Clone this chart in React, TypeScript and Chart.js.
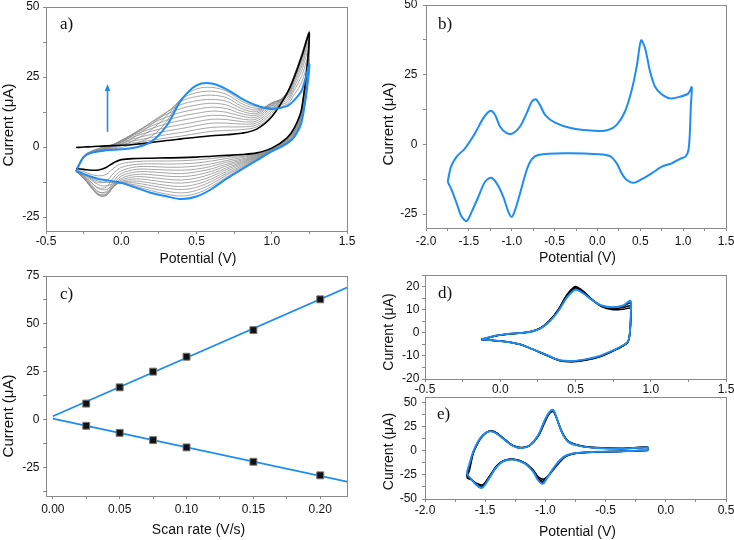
import React, { useEffect, useRef } from 'react';
import { Chart, registerables } from 'chart.js';

Chart.register(...registerables);

const BLUE = '#1e8cf0';
const AXIS = '#8a8a8a';
const GRAY = '#8a8a8a';
const SANS = "'Liberation Sans', Arial, Helvetica, sans-serif";
const SERIF = "'Liberation Serif', 'Times New Roman', serif";

// ---------- Panel a: repeated CV cycles ----------
const aUpE = [-0.3, -0.25, -0.2, -0.1, 0, 0.1, 0.2, 0.3, 0.4, 0.5, 0.6, 0.7, 0.8, 0.9, 1.0, 1.1, 1.15, 1.2, 1.25];
const aLoE = [1.2, 1.15, 1.1, 1.0, 0.9, 0.8, 0.7, 0.6, 0.5, 0.4, 0.3, 0.2, 0.1, 0.0, -0.05, -0.1, -0.15, -0.2, -0.25, -0.3];
const aBlueUp = [-8.6, -3.6, -2.1, -1.2, -0.8, -0.1, 1.9, 7.5, 16.8, 22.0, 22.7, 20.6, 17.3, 14.8, 13.6, 14.6, 16.8, 20.3, 29.5];
const aBlueLo = [9.3, 3.6, 1.2, -1.6, -4.8, -8.0, -11.3, -15.0, -17.7, -18.6, -17.6, -16.4, -14.6, -12.8, -12.3, -11.9, -11.4, -10.6, -9.6, -8.6];
const aBlackUp = [-0.2, 0.0, 0.1, 0.4, 0.6, 1.0, 1.6, 2.3, 2.9, 3.5, 4.0, 4.4, 4.9, 6.4, 10.8, 19.0, 25.0, 32.5, 40.5];
const aBlackLo = [14.0, 6.8, 3.2, -0.4, -2.1, -2.7, -3.0, -3.3, -3.6, -3.8, -3.9, -4.0, -4.1, -4.5, -5.6, -7.3, -8.2, -8.3, -8.0, -7.7];
// rows follow aUpE, columns are the intermediate cycles 1..12
const aGrayUp: number[][] = [
  [-8.2, -8.3, -8.4, -8.5, -8.6, -8.6, -8.7, -8.7, -8.7, -8.7, -8.6, -8.6],
  [-3.2, -3.3, -3.4, -3.5, -3.6, -3.7, -3.7, -3.8, -3.8, -3.7, -3.7, -3.6],
  [-1.5, -1.6, -1.7, -1.8, -1.9, -2.0, -2.0, -2.1, -2.1, -2.1, -2.1, -2.1],
  [0.3, 0.2, 0.0, -0.1, -0.3, -0.4, -0.5, -0.7, -0.8, -0.9, -1.0, -1.1],
  [1.0, 1.4, 1.8, 2.1, 2.3, 2.4, 2.3, 2.0, 1.6, 1.0, 0.4, -0.2],
  [1.6, 2.4, 3.2, 4.0, 4.6, 5.1, 5.4, 5.4, 5.0, 4.0, 2.8, 1.4],
  [2.4, 3.4, 4.5, 5.6, 6.6, 7.5, 8.3, 8.8, 8.9, 8.0, 6.2, 3.8],
  [3.2, 4.4, 5.7, 7.0, 8.3, 9.5, 10.7, 11.7, 12.4, 12.3, 11.0, 9.0],
  [3.9, 5.2, 6.6, 8.0, 9.5, 11.0, 12.4, 13.8, 15.2, 16.4, 17.2, 17.4],
  [4.8, 6.2, 7.6, 9.0, 10.5, 12.0, 13.5, 15.0, 16.5, 18.0, 19.4, 20.7],
  [5.6, 7.0, 8.5, 9.9, 11.3, 12.8, 14.2, 15.6, 17.0, 18.5, 19.9, 21.3],
  [5.9, 7.2, 8.5, 9.8, 11.1, 12.4, 13.7, 15.0, 16.3, 17.6, 18.8, 19.9],
  [6.2, 7.2, 8.2, 9.1, 10.0, 11.0, 11.9, 12.8, 13.7, 14.6, 15.5, 16.4],
  [7.2, 7.9, 8.6, 9.3, 10.0, 10.7, 11.4, 12.0, 12.6, 13.2, 13.8, 14.4],
  [11.2, 12.0, 12.8, 13.6, 14.4, 15.0, 15.5, 15.8, 15.8, 15.4, 14.8, 14.2],
  [19.3, 19.4, 19.4, 19.3, 19.1, 18.8, 18.4, 17.9, 17.3, 16.6, 15.9, 15.2],
  [25.5, 25.6, 25.6, 25.5, 25.2, 24.8, 24.2, 23.5, 22.6, 21.5, 20.3, 18.8],
  [33.0, 33.2, 33.2, 33.0, 32.6, 32.0, 31.2, 30.2, 29.0, 27.5, 25.5, 23.2],
  [41.0, 41.0, 41.0, 40.8, 40.5, 40.0, 39.3, 38.4, 37.2, 35.6, 33.6, 31.5],
];
// rows follow aLoE
const aGrayLo: number[][] = [
  [14.0, 13.8, 13.5, 13.2, 12.9, 12.5, 12.1, 11.6, 11.1, 10.6, 10.1, 9.7],
  [6.6, 6.4, 6.2, 6.0, 5.7, 5.4, 5.1, 4.8, 4.5, 4.2, 3.9, 3.7],
  [3.1, 2.9, 2.8, 2.6, 2.5, 2.3, 2.1, 2.0, 1.8, 1.6, 1.4, 1.3],
  [-0.5, -0.6, -0.7, -0.8, -0.9, -1.0, -1.1, -1.2, -1.3, -1.4, -1.5, -1.6],
  [-2.3, -2.5, -2.7, -2.9, -3.1, -3.3, -3.5, -3.7, -3.9, -4.1, -4.3, -4.6],
  [-3.0, -3.4, -3.8, -4.3, -4.7, -5.1, -5.5, -5.9, -6.3, -6.8, -7.2, -7.6],
  [-3.5, -4.1, -4.8, -5.4, -6.1, -6.7, -7.4, -8.0, -8.7, -9.4, -10.0, -10.7],
  [-4.1, -5.0, -6.0, -6.9, -7.8, -8.7, -9.6, -10.5, -11.4, -12.3, -13.2, -14.1],
  [-4.6, -5.7, -6.8, -7.9, -8.9, -10.0, -11.1, -12.2, -13.3, -14.4, -15.5, -16.6],
  [-4.9, -6.0, -7.2, -8.3, -9.5, -10.6, -11.8, -12.9, -14.1, -15.2, -16.4, -17.5],
  [-5.0, -6.1, -7.2, -8.2, -9.3, -10.4, -11.5, -12.6, -13.7, -14.7, -15.8, -16.8],
  [-5.0, -6.0, -7.0, -8.0, -8.9, -9.9, -10.9, -11.9, -12.9, -13.8, -14.8, -15.6],
  [-5.2, -6.2, -7.1, -8.0, -8.9, -9.8, -10.6, -11.4, -12.2, -12.9, -13.6, -14.1],
  [-6.0, -7.3, -8.5, -9.5, -10.4, -11.2, -11.8, -12.3, -12.6, -12.8, -12.9, -12.9],
  [-7.5, -9.3, -10.9, -12.2, -13.2, -13.9, -14.2, -14.2, -14.0, -13.6, -13.1, -12.6],
  [-9.8, -12.3, -14.3, -15.9, -16.8, -17.3, -17.3, -17.0, -16.3, -15.2, -13.9, -12.7],
  [-10.3, -12.7, -14.6, -16.1, -16.9, -17.3, -17.2, -16.8, -16.0, -14.9, -13.5, -12.2],
  [-9.8, -11.4, -12.7, -13.7, -14.2, -14.5, -14.4, -14.0, -13.4, -12.6, -11.8, -11.1],
  [-8.8, -9.6, -10.3, -10.8, -11.1, -11.2, -11.1, -10.9, -10.6, -10.2, -9.9, -9.7],
  [-8.3, -8.4, -8.5, -8.6, -8.7, -8.7, -8.7, -8.7, -8.7, -8.7, -8.6, -8.6],
];
const aArrowE = -0.095;
const aArrowI = [5.4, 22.5];

// ---------- Panel b: single CV ----------
const bE = [-1.747, -1.708, -1.642, -1.545, -1.428, -1.331, -1.253, -1.195, -1.137, -1.059,
  -0.981, -0.903, -0.825, -0.767, -0.72, -0.67, -0.611, -0.495, -0.3, 0.011,
  0.128, 0.225, 0.322, 0.4, 0.458, 0.509, 0.556, 0.614, 0.672, 0.75,
  0.847, 0.964, 1.061, 1.1, 1.09, 1.078, 1.062, 1.03, 0.964, 0.867,
  0.75, 0.633, 0.517, 0.42, 0.342, 0.283, 0.225, 0.147, 0.011, -0.378,
  -0.689, -0.767, -0.825, -0.903, -0.961, -1.0, -1.039, -1.098, -1.175, -1.242,
  -1.311, -1.389, -1.467, -1.525, -1.584, -1.642, -1.7, -1.747];
const bI = [-13.4, -8.0, -4.4, -1.4, 4.0, 9.4, 12.0, 10.6, 6.4, 4.0,
  4.0, 6.4, 11.2, 15.3, 16.2, 14.1, 10.6, 7.8, 5.8, 4.8,
  5.2, 7.0, 11.8, 19.5, 27.9, 37.3, 34.5, 26.1, 20.7, 18.0,
  16.5, 17.1, 18.3, 20.5, 14.0, 4.0, -2.0, -4.3, -5.2, -6.8,
  -8.0, -10.4, -12.5, -13.8, -12.8, -10.4, -6.8, -4.2, -3.5, -3.2,
  -3.8, -5.4, -9.2, -17.6, -23.6, -26.0, -24.2, -18.8, -14.0, -12.0,
  -13.4, -18.8, -24.2, -27.5, -26.0, -21.2, -16.4, -13.4];

// ---------- Panel c: peak current vs scan rate ----------
const cRate = [0.025, 0.05, 0.075, 0.1, 0.15, 0.2];
const cAnodic = [8.3, 16.8, 25.0, 32.8, 46.7, 62.8];
const cCathodic = [-3.3, -7.0, -10.8, -14.6, -22.1, -29.2];
const cFitRate = [0, 0.22];
const cFitAnodic = [1.7, 69.0];
const cFitCathodic = [0.5, -32.5];

// ---------- Panel d ----------
const dUpE = [-0.125, -0.025, 0.063, 0.152, 0.218, 0.274, 0.329, 0.385, 0.44, 0.484, 0.507, 0.551, 0.607, 0.673, 0.75, 0.817, 0.865];
const dLoE = [0.868, 0.862, 0.85, 0.817, 0.75, 0.662, 0.573, 0.484, 0.396, 0.307, 0.218, 0.13, 0.041, -0.048, -0.125];
const dBlueUp = [-2.9, -1.2, -0.4, 0.0, 0.7, 2.1, 5.0, 9.3, 15.0, 18.1, 18.6, 17.1, 14.3, 11.8, 11.0, 11.8, 13.8];
const dBlueLo = [9.3, 0.7, -3.6, -5.4, -7.6, -10.0, -11.4, -12.2, -11.9, -9.6, -7.2, -5.0, -3.9, -3.3, -2.9];
const dBlackUp: number[][] = [
  [-2.9, -1.3, -0.5, 0.0, 0.8, 2.3, 5.4, 10.0, 16.2, 19.5, 19.9, 18.0, 14.6, 11.3, 10.0, 10.2, 10.6],
  [-2.9, -1.3, -0.5, 0.0, 0.8, 2.2, 5.3, 9.8, 15.9, 19.2, 19.6, 17.8, 14.5, 11.5, 10.5, 10.9, 11.6],
  [-2.9, -1.2, -0.4, 0.0, 0.7, 2.2, 5.2, 9.6, 15.6, 18.9, 19.3, 17.6, 14.4, 11.7, 10.9, 11.5, 12.8],
];
const dBlackLo: number[][] = [
  [8.5, 0.4, -3.8, -5.7, -7.9, -10.4, -11.8, -12.5, -12.1, -9.7, -7.2, -5.0, -3.9, -3.3, -2.9],
  [8.8, 0.5, -3.7, -5.6, -7.8, -10.3, -11.7, -12.4, -12.0, -9.7, -7.2, -5.0, -3.9, -3.3, -2.9],
  [9.0, 0.6, -3.7, -5.5, -7.7, -10.2, -11.6, -12.3, -12.0, -9.6, -7.2, -5.0, -3.9, -3.3, -2.9],
];

// ---------- Panel e ----------
const eLoE = [-0.15, -0.35, -0.575, -0.74, -0.825, -0.88, -0.935, -0.99, -1.02, -1.06, -1.1, -1.17, -1.27, -1.35, -1.405, -1.46, -1.505, -1.53, -1.575, -1.615, -1.65];
const eUpE = [-1.63, -1.6, -1.56, -1.52, -1.46, -1.405, -1.335, -1.27, -1.2, -1.13, -1.06, -1.005, -0.965, -0.935, -0.91, -0.865, -0.81, -0.715, -0.575, -0.355, -0.15];
const eBlueLo = [0.7, -0.3, -1.0, -2.1, -4.5, -9.7, -18.4, -28.8, -34.0, -30.6, -21.9, -13.2, -9.0, -10.8, -16.7, -27.1, -35.8, -38.5, -35.1, -29.5, -23.6];
const eBlueUp = [-13.2, -1.0, 9.4, 16.3, 20.5, 18.0, 11.1, 5.2, 3.1, 5.9, 16.3, 32.0, 40.6, 42.4, 35.4, 19.8, 9.4, 5.2, 3.1, 2.4, 3.5];
const eBlackLo: number[][] = [
  [0.5, -0.5, -1.2, -2.5, -5.5, -11.5, -20.0, -27.5, -29.5, -27.0, -20.0, -12.5, -8.5, -10.2, -15.5, -25.5, -33.5, -35.5, -33.5, -30.0, -28.0],
  [0.6, -0.4, -1.1, -2.3, -5.0, -10.6, -19.2, -28.2, -31.5, -28.8, -21.0, -12.8, -8.7, -10.5, -16.0, -26.3, -34.5, -36.8, -34.2, -29.8, -26.5],
  [0.6, -0.3, -1.0, -2.2, -4.8, -10.1, -18.8, -28.5, -33.0, -29.8, -21.5, -13.0, -8.9, -10.7, -16.4, -26.8, -35.2, -37.8, -34.7, -29.6, -25.0],
];
const eBlackUp: number[][] = [
  [-20.0, -3.0, 8.2, 15.5, 20.8, 18.8, 11.8, 5.6, 3.4, 5.5, 15.0, 29.5, 39.0, 40.8, 35.0, 20.5, 10.2, 5.6, 3.4, 2.6, 3.8],
  [-17.0, -2.0, 8.8, 16.0, 20.7, 18.4, 11.4, 5.4, 3.2, 5.7, 15.6, 30.8, 39.8, 41.6, 35.2, 20.2, 9.8, 5.4, 3.2, 2.5, 3.6],
  [-15.0, -1.5, 9.1, 16.2, 20.6, 18.2, 11.2, 5.3, 3.1, 5.8, 16.0, 31.5, 40.2, 42.0, 35.3, 20.0, 9.6, 5.3, 3.1, 2.4, 3.5],
];

// ---------- helpers ----------
type Pt = { x: number; y: number };
const zip = (xs: number[], ys: number[]): Pt[] => xs.map((x, i) => ({ x, y: ys[i] }));
const col = (rows: number[][], k: number) => rows.map((r) => r[k]);
const closeLoop = (pts: Pt[]) => pts.concat([pts[0]]);

function curve(data: Pt[], color: string, width: number, tension = 0.35) {
  return {
    data,
    showLine: true,
    borderColor: color,
    backgroundColor: color,
    borderWidth: width,
    pointRadius: 0,
    pointHoverRadius: 0,
    tension,
    fill: false,
  };
}

interface Axis { min: number; max: number; step: number; major: number; dec: number }
interface Label { text: string; x: number; y: number; font: string; rot?: boolean; align?: CanvasTextAlign; base?: CanvasTextBaseline }
interface Panel {
  key: string;
  left: number; top: number; width: number; height: number;
  area: [number, number, number, number];
  x: Axis; y: Axis; xPad: number; yPad: number;
  datasets: any[];
  labels: Label[];
  arrow?: { x: number; y0: number; y1: number };
}

// ---------- datasets ----------
const aDatasets: any[] = [
  curve(zip(aUpE, aBlueUp).concat(zip(aLoE, aBlueLo)), BLUE, 2),
  curve(zip(aUpE, aBlackUp).concat(zip(aLoE, aBlackLo)), '#000', 1.6),
];
for (let k = 0; k < aGrayUp[0].length; k++) {
  aDatasets.push(curve(zip(aUpE, col(aGrayUp, k)).concat(zip(aLoE, col(aGrayLo, k))), GRAY, 0.75));
}

const bDatasets = [curve(zip(bE, bI), BLUE, 2, 0.3)];

const cDatasets = [
  {
    data: zip(cRate, cAnodic), showLine: false, pointStyle: 'rect', pointRadius: 4.9,
    backgroundColor: '#111', borderColor: '#777', borderWidth: 1,
  },
  {
    data: zip(cRate, cCathodic), showLine: false, pointStyle: 'rect', pointRadius: 4.9,
    backgroundColor: '#111', borderColor: '#777', borderWidth: 1,
  },
  curve(zip(cFitRate, cFitAnodic), BLUE, 1.8, 0),
  curve(zip(cFitRate, cFitCathodic), BLUE, 1.8, 0),
];

const dDatasets: any[] = [curve(closeLoop(zip(dUpE, dBlueUp).concat(zip(dLoE, dBlueLo))), BLUE, 2)];
dBlackUp.forEach((row, k) => {
  dDatasets.push(curve(closeLoop(zip(dUpE, row).concat(zip(dLoE, dBlackLo[k]))), '#000', 1.5));
});

const eDatasets: any[] = [curve(closeLoop(zip(eLoE, eBlueLo).concat(zip(eUpE, eBlueUp))), BLUE, 2)];
eBlackLo.forEach((row, k) => {
  eDatasets.push(curve(closeLoop(zip(eLoE, row).concat(zip(eUpE, eBlackUp[k]))), '#000', 1.5));
});

const YT15 = `15px ${SANS}`;
const YT14 = `14px ${SANS}`;
const XT = `14px ${SANS}`;
const PL = `17px ${SERIF}`;

const PANELS: Panel[] = [
  {
    key: 'a', left: 0, top: 0, width: 365, height: 270, area: [46, 7, 347, 231],
    x: { min: -0.5, max: 1.5, step: 0.25, major: 0.5, dec: 1 },
    y: { min: -30, max: 50, step: 12.5, major: 25, dec: 0 },
    xPad: 0, yPad: 3.5, datasets: aDatasets,
    labels: [
      { text: 'Current (μA)', x: 9, y: 125, font: YT15, rot: true },
      { text: 'Potential (V)', x: 198, y: 259, font: XT },
      { text: 'a)', x: 60, y: 29, font: PL, align: 'left', base: 'alphabetic' },
    ],
    arrow: { x: aArrowE, y0: aArrowI[0], y1: aArrowI[1] },
  },
  {
    key: 'b', left: 365, top: 0, width: 369, height: 270, area: [61, 5, 361, 228],
    x: { min: -2, max: 1.5, step: 0.25, major: 0.5, dec: 1 },
    y: { min: -30, max: 50, step: 12.5, major: 25, dec: 0 },
    xPad: 3, yPad: 5.5, datasets: bDatasets,
    labels: [
      { text: 'Current (μA)', x: 389, y: 124, font: YT15, rot: true },
      { text: 'Potential (V)', x: 577.5, y: 258, font: XT },
      { text: 'b)', x: 438, y: 29, font: PL, align: 'left', base: 'alphabetic' },
    ],
  },
  {
    key: 'c', left: 0, top: 270, width: 365, height: 270, area: [46, 6, 347, 226],
    x: { min: -0.0051, max: 0.22, step: 0.025, major: 0.05, dec: 2 },
    y: { min: -40, max: 75, step: 12.5, major: 25, dec: 0 },
    xPad: 3, yPad: 3.5, datasets: cDatasets,
    labels: [
      { text: 'Current (μA)', x: 9, y: 416, font: YT15, rot: true },
      { text: 'Scan rate (V/s)', x: 198.5, y: 530, font: XT },
      { text: 'c)', x: 60, y: 299, font: PL, align: 'left', base: 'alphabetic' },
    ],
  },
  {
    key: 'd', left: 365, top: 270, width: 369, height: 125, area: [60, 5, 361, 109],
    x: { min: -0.5, max: 1.5, step: 0.25, major: 0.5, dec: 1 },
    y: { min: -20, max: 25, step: 5, major: 10, dec: 0 },
    xPad: 0, yPad: 2.7, datasets: dDatasets,
    labels: [
      { text: 'Current (μA)', x: 389.5, y: 332, font: YT14, rot: true },
      { text: 'd)', x: 438, y: 298, font: PL, align: 'left', base: 'alphabetic' },
    ],
  },
  {
    key: 'e', left: 365, top: 395, width: 369, height: 150, area: [60, 2, 361, 104],
    x: { min: -2, max: 0.5, step: 0.25, major: 0.5, dec: 1 },
    y: { min: -50, max: 56, step: 12.5, major: 25, dec: 0 },
    xPad: 1, yPad: 5, datasets: eDatasets,
    labels: [
      { text: 'Current (μA)', x: 389, y: 451.5, font: YT14, rot: true },
      { text: 'Potential (V)', x: 577.5, y: 532.5, font: XT },
      { text: 'e)', x: 437, y: 419, font: PL, align: 'left', base: 'alphabetic' },
    ],
  },
];

function makeScale(ax: Axis, horizontal: boolean, size: number, pad: number) {
  return {
    type: 'linear',
    min: ax.min,
    max: ax.max,
    border: { display: false },
    grid: { drawOnChartArea: false, drawTicks: true, tickLength: 3, tickColor: AXIS, tickWidth: 1 },
    ticks: {
      stepSize: ax.step,
      autoSkip: false,
      maxRotation: 0,
      minRotation: 0,
      includeBounds: false,
      maxTicksLimit: 1000,
      color: '#111',
      padding: pad,
      font: { family: SANS, size: 12 },
      callback: (v: number) => {
        const val = Math.round(Number(v) * 1e6) / 1e6 + 0;
        const r = val / ax.major;
        return Math.abs(r - Math.round(r)) < 1e-6 ? val.toFixed(ax.dec) : '';
      },
    },
    afterFit: (s: any) => {
      if (horizontal) s.height = size;
      else s.width = size;
      s.paddingLeft = 0;
      s.paddingRight = 0;
      s.paddingTop = 0;
      s.paddingBottom = 0;
    },
  };
}

function decor(p: Panel) {
  return {
    id: 'decor_' + p.key,
    afterDraw(chart: any) {
      const { ctx, chartArea: a } = chart;
      const al = (v: number) => Math.round(v - 0.5) + 0.5;
      ctx.save();
      ctx.strokeStyle = AXIS;
      ctx.lineWidth = 1;
      ctx.strokeRect(al(a.left), al(a.top), al(a.right) - al(a.left), al(a.bottom) - al(a.top));
      if (p.arrow) {
        const xs = chart.scales.x;
        const ys = chart.scales.y;
        const px = Math.round(xs.getPixelForValue(p.arrow.x)) + 0.5;
        const py0 = ys.getPixelForValue(p.arrow.y0);
        const py1 = ys.getPixelForValue(p.arrow.y1);
        ctx.strokeStyle = BLUE;
        ctx.fillStyle = BLUE;
        ctx.lineWidth = 1.6;
        ctx.beginPath();
        ctx.moveTo(px, py0);
        ctx.lineTo(px, py1 + 5);
        ctx.stroke();
        ctx.beginPath();
        ctx.moveTo(px, py1);
        ctx.lineTo(px - 2.8, py1 + 7);
        ctx.lineTo(px + 2.8, py1 + 7);
        ctx.closePath();
        ctx.fill();
      }
      ctx.fillStyle = '#111';
      for (const t of p.labels) {
        ctx.save();
        ctx.translate(t.x - p.left, t.y - p.top);
        if (t.rot) ctx.rotate(-Math.PI / 2);
        ctx.font = t.font;
        ctx.textAlign = t.align || 'center';
        ctx.textBaseline = t.base || 'middle';
        ctx.fillText(t.text, 0, 0);
        ctx.restore();
      }
      ctx.restore();
    },
  };
}

function PanelChart({ p }: { p: Panel }) {
  const ref = useRef<HTMLCanvasElement | null>(null);
  useEffect(() => {
    if (!ref.current) return;
    const chart = new Chart(ref.current, {
      type: 'scatter',
      data: { datasets: p.datasets },
      options: {
        responsive: false,
        maintainAspectRatio: false,
        animation: false,
        devicePixelRatio: 1,
        events: [],
        layout: { padding: { left: 0, top: p.area[1], right: p.width - p.area[2], bottom: 0 } },
        scales: {
          x: makeScale(p.x, true, p.height - p.area[3], p.xPad),
          y: makeScale(p.y, false, p.area[0], p.yPad),
        } as any,
        plugins: { legend: { display: false }, tooltip: { enabled: false } },
      } as any,
      plugins: [decor(p)],
    } as any);
    return () => chart.destroy();
  }, [p]);
  return (
    <canvas
      ref={ref}
      width={p.width}
      height={p.height}
      style={{ position: 'absolute', left: p.left, top: p.top, width: p.width, height: p.height }}
    />
  );
}

export default function App() {
  return (
    <div style={{ position: 'absolute', left: 0, top: 0, width: 734, height: 540, overflow: 'hidden', background: '#fff' }}>
      {PANELS.map((p) => (
        <PanelChart key={p.key} p={p} />
      ))}
    </div>
  );
}
